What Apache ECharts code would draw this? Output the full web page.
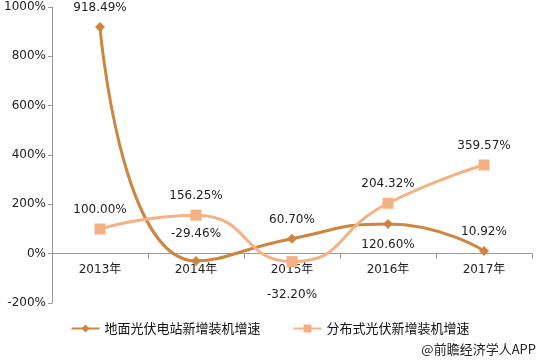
<!DOCTYPE html>
<html><head><meta charset="utf-8">
<script src="https://cdn.jsdelivr.net/npm/echarts@6/dist/echarts.min.js"></script>
<style>html,body{margin:0;padding:0;background:#fff}#c{width:540px;height:362px}</style>
</head><body><div id="c"></div>
<script>
const categories = ['2013年','2014年','2015年','2016年','2017年'];
const groundValues = [918.49, -29.46, 60.70, 120.60, 10.92];
const distValues = [100.00, 156.25, -32.20, 204.32, 359.57];
const groundLabelPos = ['top','top','top','bottom','top'];
const distLabelPos = ['top','top','bottom','top','top'];
const seriesNames = ['地面光伏电站新增装机增速','分布式光伏新增装机增速'];

const font = 'DejaVu Sans, "Noto Sans CJK SC", sans-serif';
const c1 = '#CD853F', c2 = '#F4B183';
const yMin = -200, yMax = 1000;
const gridTop = 7, gridBottom = 59, H = 362;
const plotH = H - gridTop - gridBottom;
const zeroOffset = -plotH * (0 - yMin) / (yMax - yMin);
const groundDist = [8, 16, 8, 10, 8];
const distDist = [8, 8, 22, 8, 8];
function mk(vals, pos, dist){
  return vals.map((v,i)=>({value:v,label:{position:pos[i],distance:dist[i]}}));
}
const chart = echarts.init(document.getElementById('c'));
chart.setOption({
  animation:false,
  grid:{left:52,right:8,top:gridTop,bottom:gridBottom},
  xAxis:{type:'category',data:categories,boundaryGap:true,position:'bottom',offset:zeroOffset,
    axisLine:{onZero:false,lineStyle:{color:'#999'}},
    axisTick:{show:true,length:5,lineStyle:{color:'#999'}},
    axisLabel:{color:'#222',fontSize:12,fontFamily:font,margin:10}},
  yAxis:{type:'value',min:yMin,max:yMax,interval:200,
    axisLine:{show:true,lineStyle:{color:'#999'}},
    axisTick:{show:true,length:4,lineStyle:{color:'#999'}},
    splitLine:{show:false},
    axisLabel:{color:'#222',fontSize:12,fontFamily:font,formatter:v=>v+'%',margin:6}},
  legend:{bottom:22,left:'center',itemGap:32,itemWidth:28,itemHeight:10,
    textStyle:{fontSize:13,color:'#111',fontFamily:'"Noto Sans CJK SC", sans-serif'},
    data:seriesNames},
  series:[
    {name:seriesNames[0],type:'line',smooth:0.55,data:mk(groundValues,groundLabelPos,groundDist),
     symbol:'diamond',symbolSize:10,
     lineStyle:{color:c1,width:3},itemStyle:{color:c1},
     label:{show:true,color:'#222',fontSize:12,fontFamily:font,
       formatter:p=>p.value.toFixed(2)+'%'}},
    {name:seriesNames[1],type:'line',smooth:0.55,data:mk(distValues,distLabelPos,distDist),
     symbol:'rect',symbolSize:11,
     lineStyle:{color:c2,width:3},itemStyle:{color:c2},
     label:{show:true,color:'#222',fontSize:12,fontFamily:font,
       formatter:p=>p.value.toFixed(2)+'%'}}
  ],
  graphic:[{type:'text',right:4,bottom:6,
    style:{text:'@前瞻经济学人APP',fontSize:13,fill:'#222',fontFamily:'"Noto Sans CJK SC", sans-serif'}}]
});
</script></body></html>
